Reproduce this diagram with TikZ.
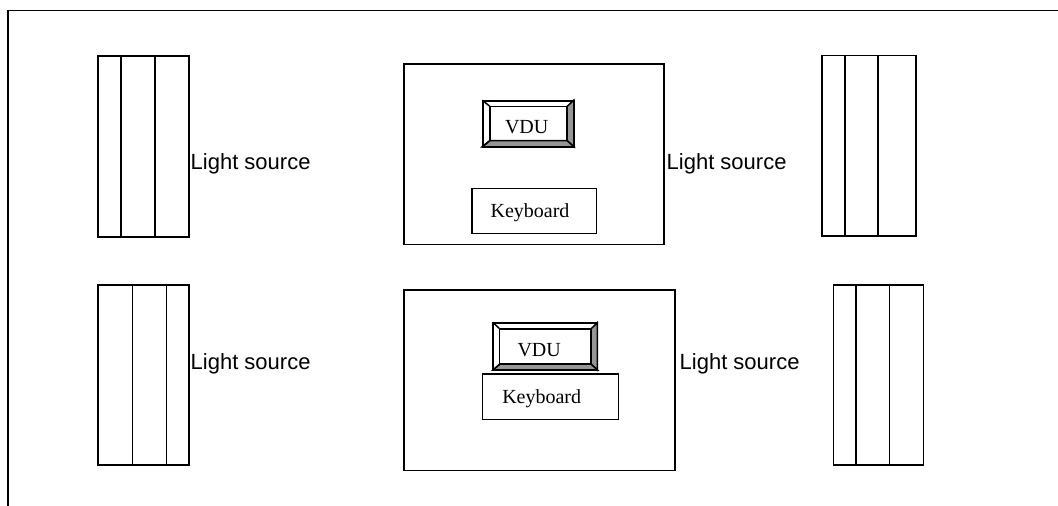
\documentclass[tikz,border=0pt]{standalone}
\usepackage{fontspec}
\setmainfont{Liberation Serif}
\setsansfont{Liberation Sans}
\usetikzlibrary{positioning}
\definecolor{bevelgray}{RGB}{150,150,150}
\tikzset{
  plan/.style={line width=1.5pt, line join=miter},
  lbl/.style={anchor=base west, inner sep=0pt, font=\sffamily\fontsize{22}{26}\selectfont},
  txt/.style={anchor=base, inner sep=0pt, font=\fontsize{20}{24}\selectfont},
  vdubox/.style={draw, plan, rectangle, inner sep=0pt},
}

\begin{document}
\begin{tikzpicture}[x=1pt,y=-1pt]
\useasboundingbox (0,0) rectangle (1058,506);
%frame
\draw[plan] (8,506) -- (8,10.5) -- (1058,10.5);
%light sources, top row:
\draw[plan] (98,56) rectangle (189,237);
\foreach \x in {121,155} \draw[plan] (\x,56) -- (\x,237);
\draw[plan] (822,55.5) rectangle (916,236);
\foreach \x in {845,878} \draw[plan] (\x,55.5) -- (\x,236);
%light sources, bottom row:
\draw[plan] (98,285) rectangle (189,465);
\foreach \x in {132.5,166.5} \draw[plan] (\x,285) -- (\x,465);
\draw[plan] (833.5,285) rectangle (923.5,465);
\foreach \x in {856,889.5} \draw[plan] (\x,285) -- (\x,465);
%labels
\node[lbl] (ls1) at (190.5,169) {Light source};
\node[lbl] (ls2) at (666.5,169) {Light source};
\node[lbl] (ls3) at (190.5,369) {Light source};
\node[lbl] (ls4) at (679.5,369) {Light source};
%top desk:
\draw[plan] (404,64) rectangle (664,244.5);
\node[vdubox, minimum width=90pt, minimum height=45pt] (vdu1) at (528,123.5) {};
\node[inner sep=0pt, minimum width=77pt, minimum height=34pt] (vdu1in) at (528.5,123.5) {};
\node[vdubox, minimum width=124.5pt, minimum height=45pt] (kb1) at (534,211) {};
\node[txt] (vdu1t) at (526.7,133.3) {VDU};
\node[txt] (kb1t) at (530,217.7) {Keyboard};
%bottom desk:
\draw[plan] (404,290) rectangle (675,470.5);
\node[vdubox, minimum width=103pt, minimum height=46pt] (vdu2) at (545.2,346.3) {};
\node[inner sep=0pt, minimum width=91pt, minimum height=35pt] (vdu2in) at (545.4,346.5) {};
\node[vdubox, minimum width=136pt, minimum height=45.5pt] (kb2) at (550.7,396.7) {};
\node[txt] (vdu2t) at (539.2,356) {VDU};
\node[txt] (kb2t) at (541.7,403.3) {Keyboard};
%bevels
\foreach \v in {vdu1,vdu2}{
  \filldraw[plan, fill=bevelgray] (\v.north east) -- (\v.south east) -- (\v in.south east) -- (\v in.north east) -- cycle;
  \filldraw[plan, fill=bevelgray] (\v.south west) -- (\v.south east) -- (\v in.south east) -- (\v in.south west) -- cycle;
  \draw[plan] (\v in.south west) rectangle (\v in.north east);
  \draw[plan] (\v.north west) -- (\v in.north west);
  \draw[plan] (\v.south west) -- (\v in.south west);
  \draw[plan] (\v.north west) rectangle (\v.south east);
}
\end{tikzpicture}
\end{document}
